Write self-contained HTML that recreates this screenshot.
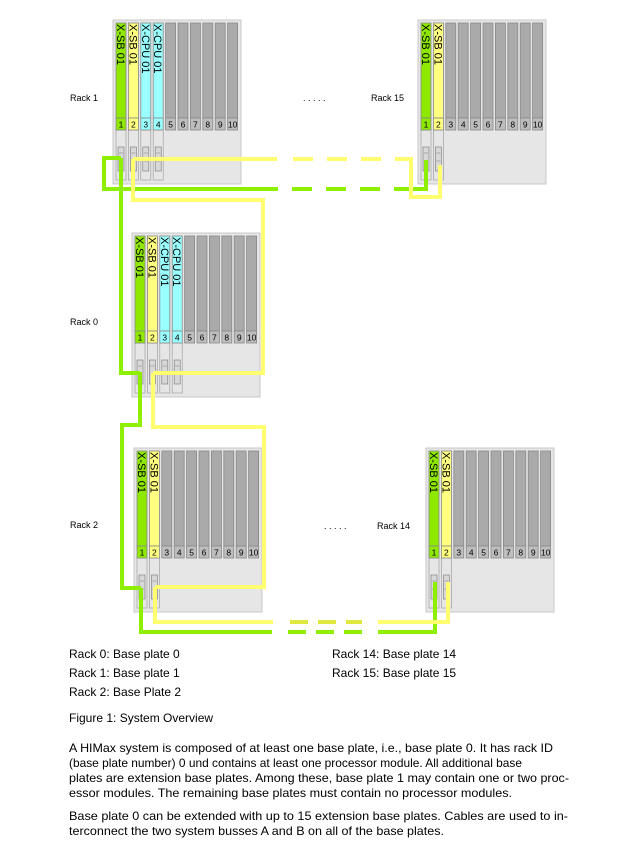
<!DOCTYPE html>
<html><head><meta charset="utf-8">
<style>
html,body{margin:0;padding:0;background:#fff;}
svg{display:block;font-family:"Liberation Sans",Arial,sans-serif;}
</style></head>
<body>
<svg id="s" width="619" height="847" viewBox="0 0 619 847" xmlns="http://www.w3.org/2000/svg">
<g id="racks"></g>
<g id="cables" fill="none" stroke-width="4" stroke-linejoin="miter">
  <polyline stroke="#8ef000" points="121,158 104,158 104,189 278,189"/>
  <line stroke="#8ef000" x1="292" y1="189" x2="400" y2="189" stroke-dasharray="20,14"/>
  <polyline stroke="#8ef000" points="400,189 426,189 426,160"/>
  <polyline stroke="#8ef000" points="121,158 121,373 140,373"/>
  <polyline stroke="#8ef000" points="140,372 140,425 122,425 122,588 141,588"/>
  <polyline stroke="#8ef000" points="141,588 141,632 272,632"/>
  <line stroke="#8ef000" x1="288" y1="632" x2="362" y2="632" stroke-dasharray="18,10"/>
  <polyline stroke="#8ef000" points="378,632 435,632 435,582"/>
  <polyline stroke="#ffff70" points="133,159 277,159"/>
  <line stroke="#ffff70" x1="293" y1="159" x2="410" y2="159" stroke-dasharray="20,14"/>
  <polyline stroke="#ffff70" points="398,159 411,159 411,197 440,197 440,165"/>
  <polyline stroke="#ffff70" points="133,159 133,200 263,200 263,373 153,373"/>
  <polyline stroke="#ffff70" points="153,373 153,427 264,427 264,587 155,587"/>
  <polyline stroke="#ffff70" points="155,587 155,622 273,622"/>
  <line stroke="#e0e840" x1="290" y1="622" x2="362" y2="622" stroke-dasharray="18,10"/>
  <polyline stroke="#ffff70" points="378,622 448,622 448,582"/>
</g>
<g font-size="9" fill="#000">
  <text x="70" y="101">Rack 1</text>
  <text x="303" y="101">. . . . .</text>
  <text x="371" y="101">Rack 15</text>
  <text x="70" y="325">Rack 0</text>
  <text x="70" y="528">Rack 2</text>
  <text x="324" y="529">. . . . .</text>
  <text x="377" y="529">Rack 14</text>
</g>
<g font-size="12" fill="#000">
  <text x="69" y="658">Rack 0: Base plate 0</text>
  <text x="332" y="658">Rack 14: Base plate 14</text>
  <text x="69" y="677">Rack 1: Base plate 1</text>
  <text x="332" y="677">Rack 15: Base plate 15</text>
  <text x="69" y="696">Rack 2: Base Plate 2</text>
  <text x="69" y="722">Figure 1: System Overview</text>
  <text x="69" y="752" textLength="484" lengthAdjust="spacingAndGlyphs">A HIMax system is composed of at least one base plate, i.e., base plate 0. It has rack ID</text>
  <text x="69" y="767" textLength="453" lengthAdjust="spacingAndGlyphs">(base plate number) 0 und contains at least one processor module. All additional base</text>
  <text x="69" y="782" textLength="500" lengthAdjust="spacingAndGlyphs">plates are extension base plates.  Among these, base plate 1 may contain one or two proc-</text>
  <text x="69" y="797" textLength="443" lengthAdjust="spacingAndGlyphs">essor modules. The remaining base plates must contain no processor modules.</text>
  <text x="69" y="820" textLength="499" lengthAdjust="spacingAndGlyphs">Base plate 0 can be extended with up to 15 extension base plates. Cables are used to in-</text>
  <text x="69" y="835" textLength="375" lengthAdjust="spacingAndGlyphs">terconnect the two system busses A and B on all of the base plates.</text>
</g>
</svg>
<script>
(function(){
var NS="http://www.w3.org/2000/svg";
var g=document.getElementById("racks");
function el(t,a,txt){var e=document.createElementNS(NS,t);for(var k in a)e.setAttribute(k,a[k]);if(txt!=null)e.textContent=txt;g.appendChild(e);return e;}
var C={g:["#8ee800","X-SB 01"],y:["#ffff80","X-SB 01"],c:["#99ffff","X-CPU 01"]};
function rack(x,y,types){
  el("rect",{x:x,y:y,width:128,height:164,fill:"#e6e6e6",stroke:"#c8c8c8","stroke-width":1});
  for(var i=0;i<10;i++){
    var sx=x+3+i*12.4, w=10, t=types[i];
    var fill=t?C[t][0]:"#aaaaaa";
    if(t){el("rect",{x:sx,y:y+110,width:w,height:50,fill:"#e6e6e6",stroke:"#a0a0a0","stroke-width":0.7});
      el("rect",{x:sx+2,y:y+127,width:6,height:24,fill:"#d8d8d8",stroke:"#777","stroke-width":0.6});
      el("line",{x1:sx+3,y1:y+133,x2:sx+7,y2:y+133,stroke:"#777","stroke-width":0.5});
      el("line",{x1:sx+3,y1:y+141,x2:sx+7,y2:y+141,stroke:"#777","stroke-width":0.5});}
    el("rect",{x:sx,y:y+3,width:w,height:95,fill:fill,stroke:"#888","stroke-width":0.8});
    el("rect",{x:sx,y:y+98,width:w,height:12,fill:t?fill:"#bdbdbd",stroke:"#888","stroke-width":0.8});
    el("text",{x:sx+w/2,y:y+107.5,"font-size":"8.5","text-anchor":"middle",fill:"#000"},String(i+1));
    if(t){el("text",{x:0,y:0,"font-size":"11",fill:"#000",transform:"translate("+(sx+1)+","+(y+4)+") rotate(90)"},C[t][1]);}
  }
}
rack(113,20,["g","y","c","c"]);
rack(418,20,["g","y"]);
rack(132,233,["g","y","c","c"]);
rack(134,448,["g","y"]);
rack(426,448,["g","y"]);
})();
</script>
</body></html>
